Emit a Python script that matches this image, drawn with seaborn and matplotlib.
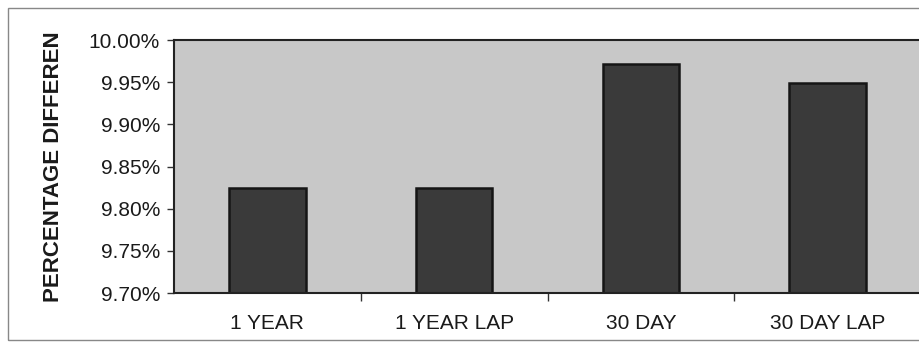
import matplotlib
matplotlib.use("Agg")
import matplotlib.pyplot as plt
import seaborn as sns
import pandas as pd
from matplotlib.ticker import FuncFormatter, FixedLocator
from matplotlib.patches import Rectangle

categories = ["1 YEAR", "1 YEAR LAP", "30 DAY", "30 DAY LAP"]
values = [9.824, 9.824, 9.971, 9.949]
y_ticks = [9.70, 9.75, 9.80, 9.85, 9.90, 9.95, 10.00]
y_label = "PERCENTAGE DIFFEREN"

sns.set_theme(style="white")
plt.rcParams['font.family'] = ['Liberation Sans', 'DejaVu Sans']

df = pd.DataFrame({"cat": categories, "val": values})

fig = plt.figure(figsize=(9.19, 3.53), dpi=100)
ax = fig.add_axes([174/919, 1-293/353, 747/919, 253/353])

sns.barplot(data=df, x="cat", y="val", ax=ax, color="#3a3a3a", width=0.41,
            edgecolor="#151515", linewidth=1.8, saturation=1)
ax.set_facecolor("#c8c8c8")
ax.set_ylim(9.70, 10.00)
ax.set_xlim(-0.5, 3.5)
ax.yaxis.set_major_locator(FixedLocator(y_ticks))
ax.yaxis.set_major_formatter(FuncFormatter(lambda v, p: f"{v:.2f}%"))
ax.set_xlabel("")
ax.set_ylabel(y_label, fontsize=16, fontweight="bold", color="#1a1a1a", labelpad=18)
ax.tick_params(axis="y", which="major", left=True, length=5, width=1, color="#333333",
               labelsize=15, labelcolor="#1a1a1a", pad=5)
ax.tick_params(axis="x", which="major", bottom=False, length=0, labelsize=15,
               labelcolor="#1a1a1a", pad=15)
ax.xaxis.set_minor_locator(FixedLocator([0.5, 1.5, 2.5]))
ax.tick_params(axis="x", which="minor", bottom=True, length=6, width=1, color="#333333")
for s in ax.spines.values():
    s.set_visible(True)
    s.set_color("#222222")
    s.set_linewidth(1.5)

fig.patches.append(Rectangle((8/919, 1-340/353), 1.0, (340-8)/353, transform=fig.transFigure,
                             fill=False, edgecolor="#888888", linewidth=1))

fig.savefig("out.png", dpi=100, facecolor="white")
